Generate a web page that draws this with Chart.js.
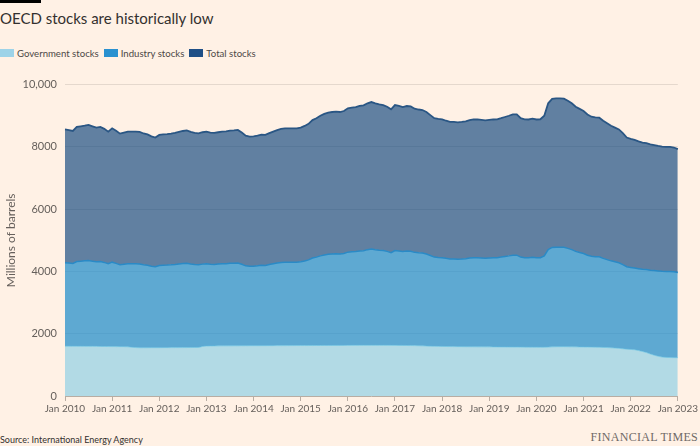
<!DOCTYPE html>
<html>
<head>
<meta charset="utf-8">
<script src="https://cdn.jsdelivr.net/npm/chart.js@4"></script>
<style>
    body { margin: 0; background: #fff1e5; font-family: Lato, sans-serif; color: #33302e; }
    #wrap { position: relative; width: 700px; height: 446px; overflow: hidden; }
    #bar { position: absolute; left: 0; top: 0; width: 41px; height: 3px; background: #000; }
    #title { position: absolute; left: 0; top: 8px; font-size: 15px; line-height: 20px; }
    #legend { position: absolute; left: 0; top: 47px; font-size: 9.6px; line-height: 14px; color: #4d4845; }
    #legend span.item { display: inline-block; margin-right: 5px; }
    #legend i { display: inline-block; width: 14px; height: 8px; margin-right: 3px; vertical-align: 0; }
    #chartBox { position: absolute; left: 0; top: 70px; }
    #source { position: absolute; left: 0; top: 434px; font-family: "Liberation Sans Narrow", Lato, sans-serif; font-size: 9px; color: #33302e; }
    #ft { position: absolute; right: 2px; top: 430px; font-family: "Liberation Serif", serif; font-size: 12px; color: #6f6965; letter-spacing: 0.3px; }
</style>
</head>
<body>
<div id="wrap">
    <div id="bar"></div>
    <div id="title">OECD stocks are historically low</div>
    <div id="legend"></div>
    <div id="chartBox"><canvas id="stocksChart" width="700" height="350"></canvas></div>
    <div id="source">Source: International Energy Agency</div>
    <div id="ft">FINANCIAL TIMES</div>
</div>
<script>
// Monthly, Jan 2010 .. Jan 2023, millions of barrels
const government = [
    1600, 1600, 1598, 1598, 1597, 1596, 1595, 1595, 1594, 1592, 1590, 1588,
    1588, 1586, 1585, 1584, 1580, 1565, 1555, 1550, 1550, 1550, 1552, 1552,
    1552, 1553, 1553, 1554, 1554, 1555, 1555, 1556, 1556, 1558, 1560, 1590,
    1605, 1607, 1608, 1610, 1610, 1611, 1612, 1612, 1613, 1614, 1614, 1615,
    1615, 1615, 1616, 1616, 1617, 1617, 1618, 1618, 1618, 1619, 1619, 1620,
    1620, 1620, 1621, 1621, 1622, 1622, 1623, 1623, 1624, 1624, 1625, 1625,
    1626, 1626, 1627, 1627, 1628, 1628, 1628, 1628, 1628, 1627, 1627, 1626,
    1626, 1625, 1624, 1622, 1620, 1618, 1614, 1610, 1605, 1600, 1596, 1594,
    1592, 1590, 1588, 1586, 1585, 1584, 1583, 1582, 1581, 1580, 1580, 1579,
    1578, 1577, 1576, 1575, 1574, 1573, 1572, 1571, 1570, 1569, 1568, 1567,
    1566, 1565, 1565, 1570, 1578, 1582, 1584, 1584, 1582, 1580, 1578, 1576,
    1574, 1572, 1570, 1568, 1565, 1560, 1555, 1548, 1540, 1530, 1518, 1505,
    1495, 1485, 1460, 1430, 1395, 1350, 1310, 1275, 1250, 1240, 1235, 1232,
    1230
];
const industry = [
    2682, 2670, 2658, 2722, 2733, 2744, 2757, 2735, 2715, 2728, 2700, 2657,
    2710, 2674, 2628, 2646, 2665, 2680, 2690, 2690, 2665, 2650, 2618, 2598,
    2640, 2647, 2652, 2659, 2671, 2685, 2700, 2710, 2684, 2667, 2658, 2645,
    2640, 2623, 2616, 2625, 2635, 2639, 2648, 2653, 2659, 2616, 2566, 2550,
    2555, 2565, 2579, 2576, 2603, 2628, 2652, 2672, 2680, 2679, 2679, 2678,
    2690, 2716, 2749, 2809, 2838, 2878, 2907, 2926, 2936, 2941, 2935, 2951,
    2994, 3004, 3013, 3033, 3039, 3072, 3092, 3072, 3055, 3043, 3018, 2977,
    3046, 3035, 3016, 3034, 3030, 2995, 2986, 2982, 2955, 2910, 2864, 2856,
    2851, 2830, 2812, 2814, 2810, 2816, 2827, 2848, 2862, 2860, 2852, 2846,
    2857, 2863, 2867, 2885, 2906, 2927, 2951, 2952, 2890, 2874, 2872, 2886,
    2874, 2878, 2935, 3130, 3192, 3197, 3196, 3191, 3158, 3120, 3067, 3034,
    3002, 2948, 2915, 2907, 2904, 2860, 2825, 2792, 2770, 2750, 2702, 2645,
    2635, 2627, 2630, 2640, 2664, 2690, 2717, 2740, 2755, 2760, 2765, 2758,
    2733
];
const total = [
    4282, 4270, 4256, 4320, 4330, 4340, 4352, 4330, 4309, 4320, 4290, 4245,
    4298, 4260, 4213, 4230, 4245, 4245, 4245, 4240, 4215, 4200, 4170, 4150,
    4192, 4200, 4205, 4213, 4225, 4240, 4255, 4266, 4240, 4225, 4218, 4235,
    4245, 4230, 4224, 4235, 4245, 4250, 4260, 4265, 4272, 4230, 4180, 4165,
    4170, 4180, 4195, 4192, 4220, 4245, 4270, 4290, 4298, 4298, 4298, 4298,
    4310, 4336, 4370, 4430, 4460, 4500, 4530, 4549, 4560, 4565, 4560, 4576,
    4620, 4630, 4640, 4660, 4667, 4700, 4720, 4700, 4683, 4670, 4645, 4603,
    4672, 4660, 4640, 4656, 4650, 4613, 4600, 4592, 4560, 4510, 4460, 4450,
    4443, 4420, 4400, 4400, 4395, 4400, 4410, 4430, 4443, 4440, 4432, 4425,
    4435, 4440, 4443, 4460, 4480, 4500, 4523, 4523, 4460, 4443, 4440, 4453,
    4440, 4443, 4500, 4700, 4770, 4779, 4780, 4775, 4740, 4700, 4645, 4610,
    4576, 4520, 4485, 4475, 4469, 4420, 4380, 4340, 4310, 4280, 4220, 4150,
    4130, 4112, 4090, 4070, 4059, 4040, 4027, 4015, 4005, 4000, 4000, 3990,
    3963
];
const seriesNames = ['Government stocks', 'Industry stocks', 'Total stocks'];
const swatchColors = ['#9dd3e8', '#2a91d0', '#1f4f86'];
const yTickLabels = ['0', '2000', '4000', '6000', '8000', '10,000'];
const monthNames = ['Jan', 'Feb', 'Mar', 'Apr', 'May', 'Jun', 'Jul', 'Aug', 'Sep', 'Oct', 'Nov', 'Dec'];

// month labels for the category axis
const months = [];
for (let y = 2010; y <= 2023; y++) {
    for (let m = 0; m < 12; m++) {
        if (y === 2023 && m > 0) break;
        months.push(`${monthNames[m]} ${y}`);
    }
}

// html legend
const legend = document.getElementById('legend');
seriesNames.forEach((name, i) => {
    const item = document.createElement('span');
    item.className = 'item';
    item.innerHTML = `<i style="background:${swatchColors[i]}"></i>${name}`;
    legend.appendChild(item);
});

const tickFont = { family: 'Lato', size: 10 };
const ctx = document.getElementById('stocksChart').getContext('2d');
const stocksChart = new Chart(ctx, {
    type: 'line',
    data: {
        labels: months,
        datasets: [{
            label: seriesNames[0],
            data: government,
            backgroundColor: 'rgba(101, 195, 229, 0.5)',
            borderColor: 'rgba(101, 195, 229, 0.6)',
            borderWidth: 1,
            fill: 'origin'
        }, {
            label: seriesNames[1],
            data: industry,
            backgroundColor: 'rgba(25, 138, 202, 0.7)',
            borderColor: '#2a8ac6',
            borderWidth: 1.5,
            fill: '-1'
        }, {
            label: seriesNames[2],
            data: total,
            backgroundColor: 'rgba(13, 68, 125, 0.65)',
            borderColor: '#2a5684',
            borderWidth: 1.8,
            fill: '-1'
        }]
    },
    options: {
        responsive: false,
        animation: false,
        layout: { padding: { top: 13, right: 20, left: 0, bottom: 0 } },
        elements: { point: { radius: 0 }, line: { tension: 0 } },
        plugins: { legend: { display: false }, tooltip: { enabled: false } },
        scales: {
            x: {
                grid: {
                    drawOnChartArea: false,
                    drawTicks: true,
                    tickLength: 5,
                    color: c => (c.index % 12 === 0 ? '#b8ada3' : 'transparent')
                },
                border: { display: true, color: '#b8ada3' },
                ticks: {
                    autoSkip: false,
                    maxRotation: 0,
                    padding: 2,
                    color: '#66605c',
                    font: tickFont,
                    callback: (v, i) => (i % 12 === 0 ? months[i] : '')
                },
                afterFit: s => { s.height = 24; }
            },
            y: {
                stacked: true,
                min: 0,
                max: 10000,
                border: { display: false },
                grid: {
                    drawTicks: false,
                    color: c => (c.tick && c.tick.value === 0 ? 'transparent' : 'rgba(0, 0, 0, 0.1)')
                },
                ticks: {
                    stepSize: 2000,
                    padding: 8,
                    color: '#66605c',
                    font: { family: 'Lato', size: 11 },
                    callback: v => yTickLabels[v / 2000]
                },
                title: {
                    display: true,
                    text: 'Millions of barrels',
                    color: '#66605c',
                    font: { family: 'Lato', size: 12 },
                    padding: { top: 4, bottom: 0 }
                },
                afterFit: s => { s.width = 65; }
            }
        }
    }
});
</script>
</body>
</html>
